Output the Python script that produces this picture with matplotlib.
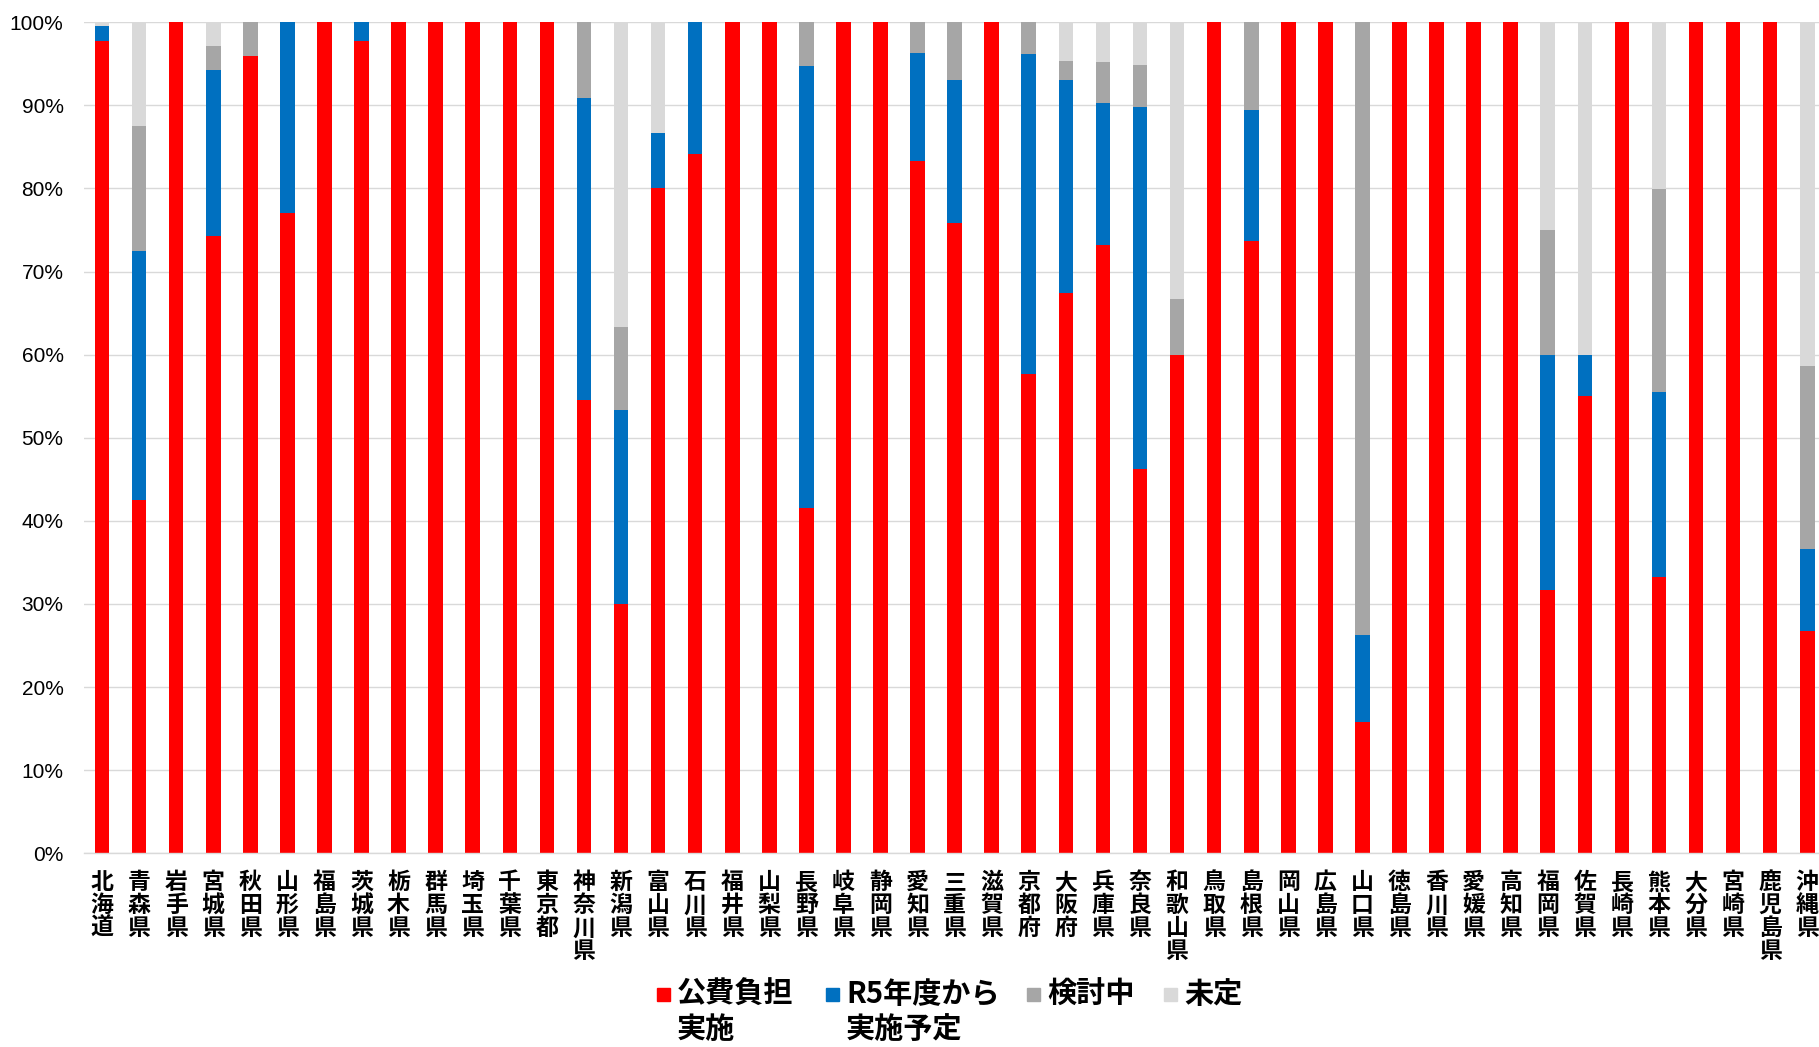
"""Stacked 100% bar chart by prefecture (公費負担の実施状況)."""

import matplotlib
matplotlib.use("Agg")
import matplotlib.pyplot as plt
from matplotlib.patches import Rectangle
from matplotlib.ticker import PercentFormatter
import numpy as np

plt.rcParams["font.family"] = ["Noto Sans CJK JP", "DejaVu Sans"]

PREFECTURES = [
    "北海道", "青森県", "岩手県", "宮城県", "秋田県", "山形県", "福島県",
    "茨城県", "栃木県", "群馬県", "埼玉県", "千葉県", "東京都", "神奈川県",
    "新潟県", "富山県", "石川県", "福井県", "山梨県", "長野県", "岐阜県",
    "静岡県", "愛知県", "三重県", "滋賀県", "京都府", "大阪府", "兵庫県",
    "奈良県", "和歌山県", "鳥取県", "島根県", "岡山県", "広島県", "山口県",
    "徳島県", "香川県", "愛媛県", "高知県", "福岡県", "佐賀県", "長崎県",
    "熊本県", "大分県", "宮崎県", "鹿児島県", "沖縄県",
]

# percentages
implemented = [
    97.8, 42.5, 100, 74.3, 96.0, 77.1, 100,
    97.7, 100, 100, 100, 100, 100, 54.5,
    30.0, 80.0, 84.2, 100, 100, 41.6, 100,
    100, 83.3, 75.9, 100, 57.7, 67.4, 73.2,
    46.2, 60.0, 100, 73.7, 100, 100, 15.8,
    100, 100, 100, 100, 31.7, 55.0, 100,
    33.3, 100, 100, 100, 26.8,
]
planned_r5 = [
    1.7, 30.0, 0, 20.0, 0, 22.9, 0,
    2.3, 0, 0, 0, 0, 0, 36.4,
    23.3, 6.7, 15.8, 0, 0, 53.2, 0,
    0, 13.0, 17.2, 0, 38.5, 25.6, 17.1,
    43.6, 0, 0, 15.8, 0, 0, 10.5,
    0, 0, 0, 0, 28.3, 5.0, 0,
    22.2, 0, 0, 0, 9.8,
]
considering = [
    0, 15.0, 0, 2.9, 4.0, 0, 0,
    0, 0, 0, 0, 0, 0, 9.1,
    10.0, 0, 0, 0, 0, 5.2, 0,
    0, 3.7, 6.9, 0, 3.8, 2.3, 4.9,
    5.1, 6.7, 0, 10.5, 0, 0, 73.7,
    0, 0, 0, 0, 15.0, 0, 0,
    24.4, 0, 0, 0, 22.0,
]
undecided = [
    0.5, 12.5, 0, 2.8, 0, 0, 0,
    0, 0, 0, 0, 0, 0, 0,
    36.7, 13.3, 0, 0, 0, 0, 0,
    0, 0, 0, 0, 0, 4.7, 4.8,
    5.1, 33.3, 0, 0, 0, 0, 0,
    0, 0, 0, 0, 25.0, 40.0, 0,
    20.1, 0, 0, 0, 41.4,
]

SERIES = [
    ("公費負担\n実施", implemented, "#FF0000"),
    ("R5年度から\n実施予定", planned_r5, "#0070C0"),
    ("検討中", considering, "#A6A6A6"),
    ("未定", undecided, "#D9D9D9"),
]

W, H = 1819, 1047
fig = plt.figure(figsize=(W / 100, H / 100), dpi=100)
left_px, right_px, top_px, bottom_px = 83.5, 1825.8, 22.3, 853.2
ax = fig.add_axes([left_px / W, 1 - bottom_px / H,
                   (right_px - left_px) / W, (bottom_px - top_px) / H])

x = np.arange(len(PREFECTURES))
base = np.zeros(len(PREFECTURES))
for label, values, color in SERIES:
    vals = np.array(values, dtype=float)
    ax.bar(x, vals, width=0.394, bottom=base, color=color, zorder=2)
    base += vals

ax.set_xlim(-0.5, len(PREFECTURES) - 0.5)
ax.set_ylim(0, 100)
ax.set_yticks(np.arange(0, 101, 10))
ax.yaxis.set_major_formatter(PercentFormatter(decimals=0))
ax.grid(axis="y", color="#D9D9D9", linewidth=1.0, zorder=0)
ax.set_axisbelow(True)
for side in ["left", "right", "top"]:
    ax.spines[side].set_visible(False)
ax.spines["bottom"].set_color("#D9D9D9")
ax.spines["bottom"].set_linewidth(1.0)

ax.tick_params(axis="y", length=0, pad=14.4)
for lbl in ax.get_yticklabels():
    lbl.set_family(["Liberation Sans", "DejaVu Sans"])
    lbl.set_fontsize(15)

ax.set_xticks(x)
ax.set_xticklabels(["\n".join(p) for p in PREFECTURES], fontsize=16.5,
                   fontweight="bold", linespacing=1.0, va="top")
ax.tick_params(axis="x", length=0, pad=13)

# legend drawn by hand so the swatch sits on the first text line
legend_x = [657, 826, 1027, 1164]
for (label, _, color), lx in zip(SERIES, legend_x):
    fig.patches.append(Rectangle((lx / W, 1 - 1001 / H), 13 / W, 13 / H,
                                 transform=fig.transFigure, color=color))
    fig.text((lx + 20) / W, 1 - 979 / H, label, fontsize=21,
             fontweight="bold", va="top", ha="left", linespacing=1.22)

fig.savefig("out.png", dpi=100)
